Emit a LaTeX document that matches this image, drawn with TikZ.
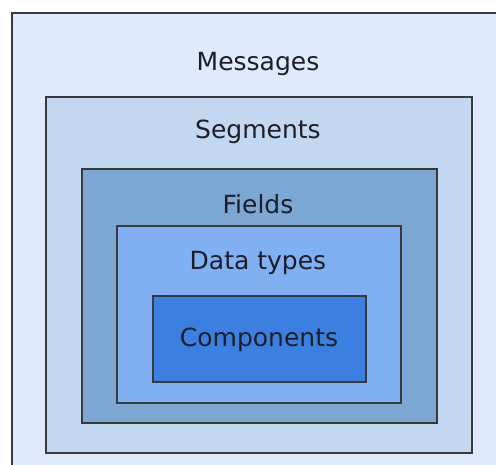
\documentclass[tikz,border=0pt]{standalone}
\usepackage{fontspec}
\setmainfont{DejaVu Sans}
\definecolor{msgfill}{HTML}{DFEBFC}
\definecolor{segfill}{HTML}{C3D7F0}
\definecolor{fldfill}{HTML}{7DA7D3}
\definecolor{dtfill}{HTML}{80AFF2}
\definecolor{cmpfill}{HTML}{3B80E0}
\definecolor{edge}{HTML}{3A3A3A}
\definecolor{ink}{HTML}{1C1E28}
\begin{document}
\begin{tikzpicture}[x=1pt,y=-1pt,
  layer/.style={draw=edge, line width=1.6pt},
  shade/.style={draw=edge!40, line width=1.6pt},
  lbl/.style={anchor=base, text=ink, font=\fontsize{25}{30}\selectfont, inner sep=0pt}]
\useasboundingbox (0,0) rectangle (496,464);
\clip (0,0) rectangle (496,464);
% soft offset outlines under each frame
\draw[shade] (13.5,14.5) rectangle (520,490);
\draw[shade] (47.5,98.5) rectangle (473.5,454.5);
\draw[shade] (83.5,170.5) rectangle (438.5,424.5);
\draw[shade] (118.5,227.5) rectangle (402.5,404.5);
\draw[shade] (154.5,297.5) rectangle (367.5,383.5);
% nested frames
\draw[layer, fill=msgfill] (12,13) rectangle (520,490);
\draw[layer, fill=segfill] (46,97) rectangle (472,453);
\draw[layer, fill=fldfill] (82,169) rectangle (437,423);
\draw[layer, fill=dtfill] (117,226) rectangle (401,403);
\draw[layer, fill=cmpfill] (153,296) rectangle (366,382);
% labels
\node[lbl] (msg) at (258,70) {Messages};
\node[lbl] (seg) at (258,138) {Segments};
\node[lbl] (fld) at (258,213) {Fields};
\node[lbl] (dt) at (258,269) {Data types};
\node[lbl] (cmp) at (259,346) {Components};
\end{tikzpicture}
\end{document}
